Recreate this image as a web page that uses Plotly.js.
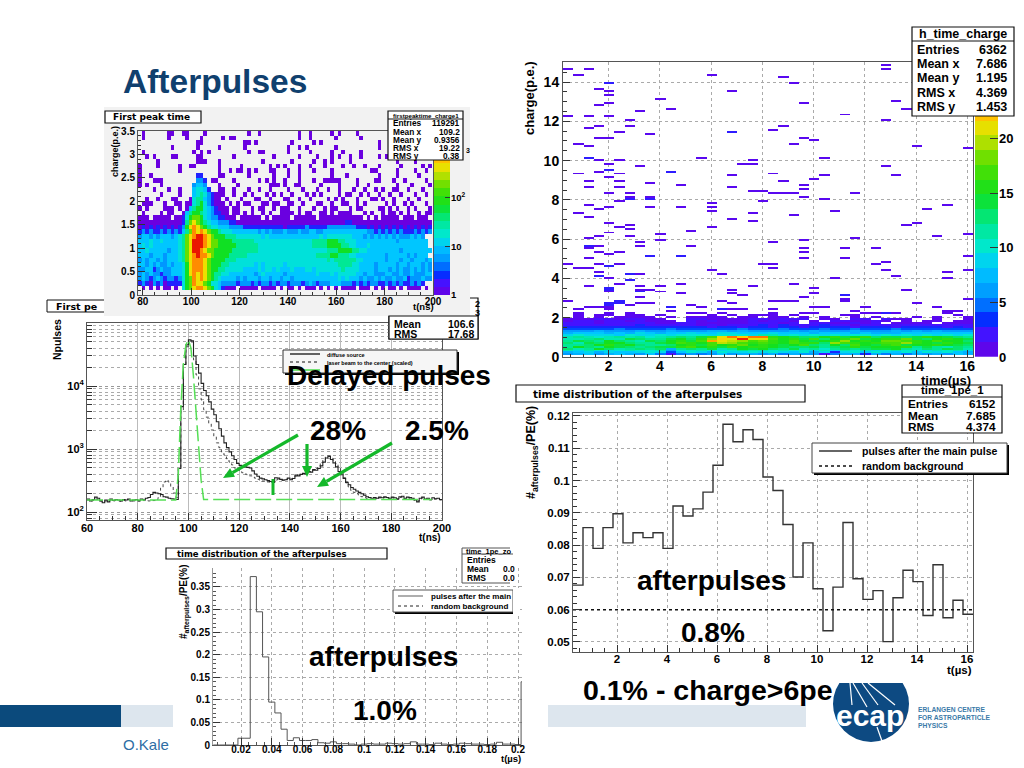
<!DOCTYPE html>
<html><head><meta charset="utf-8">
<script src="https://cdn.plot.ly/plotly-3.0.1.min.js"></script>
<style>html,body{margin:0;padding:0;background:#fff}#g{width:1024px;height:768px}</style>
</head><body><div id="g"></div>
<script>
/* ---------- DATA ---------- */
// Panel A "First peak time": 1.5 ns x 0.1 p.e. cells, rows bottom-up, one char per cell
const peakLevels = {'1':0,'2':0.35,'3':0.72,'4':1.0,'5':1.2,'6':1.5,'7':1.85,'8':2.25,'9':2.65,'a':2.95,'b':3.3};
const peakRows = [
"",
".1.1.1.11.1.5789aa987542111.11111.1111.1.11.1.111.1.1.1.1111.111.1.1.11.1.1111.1.1",
"232132312222578a998755433332333232332323323332343233344433323232332232323223232",
"343234323323578a9a98765444434344434434434434444444444445454443433434334334233343343",
"343433233444579a9a98766554444444345444443444444445444545555544344333443343343334433",
"334423433444579aaa98776655555444454554544454445545555555655554444344434343343434344",
"443434334344579aaa98777665555555454555554555555555555556666554444344444344344434344",
"343443434445689aaa98777766655555555555555555555555556566666655444444344434434443444",
"444344434445689abaa9877776666655555555555555555556666776665544444444344444343444",
"445444443445689bba98877777666666655555555555555555556667777665544444444434444444444",
"454544444445689bbba9887777766666655555555555555566667777665544454444444444444444",
"444544544445689bbba9887777666666555555555555555566667776655544444444444344444444",
"344343444345689abba987776665555555454444444444444454555555544434343434343334343",
"232322323232468a9a9877655544444443434333433343344334444444444443323232323222323232",
"121212121212379a98765544433332222222222212222232222233333333222121212121212121212",
"111111111111268987654433322111111111111111111111111111111221111111111111111111111",
"111.11111.11257887543322111.111111.1.11111.111111.111111111111.1.1.11111.111.111",
".1....1.11..1467765432211.11.1.1..1.1..1111.1.11..11.1.1111...1.1..1.11.1.1..1.11"
];
const peakSparseRows = {
18:[0,2,7,8,9,11,24,26,27,31,33,34,37,39,40,41,44,48,51,53,54,58,60,61,66,67,69,71,74,76,80],
19:[1,2,3,7,10,11,13,23,25,27,29,30,34,35,37,38,41,42,45,49,50,53,56,57,60,62,68,70,73,75,79],
20:[2,5,9,10,22,24,28,32,33,36,40,41,44,47,52,54,56,60,64,65,67,70,74,77],
21:[6,11,22,23,26,29,31,35,37,39,42,46,48,50,55,57,58,61,63,66,69,72,76,79],
22:[4,8,11,22,23,26,30,33,36,41,45,49,52,55,59,62,65,67,70,71,74,78],
23:[0,2,6,22,27,36,37,38,40,43,44,50,55,60,63,71,75,80],
24:[0,4,5,6,20,21,26,33,35,37,40,44,48,51,52,53,54,55,60,65,66,70,73,79],
25:[0,3,22,23,30,37,41,44,53,57,66,71,77],
26:[0,11,22,25,27,28,30,32,36,37,41,44,48,53,64,65,71,76,79],
27:[0,5,11,14,15,22,28,36,38,40,44,47,51,56,59,62,66,72,78,80],
28:[5,16,17,18,22,34,42,48,51,53,58,71,76],
29:[2,4,9,10,16,17,26,37,44,49,53,55,58,61,66,68,70],
30:[1,15,17,19,30,33,34,41,47,53,56,61],
31:[9,16,22,29,41,44,46,54,66],
32:[16,17,29,30,32,42,48,50,66],
33:[1,8,13,17,23,25,26,44,47,54,61],
34:[1,8,9,12,13,18,30,33,44,47,53,55,60]
};
const peakRidge = [[18,13,"14677543211"],[19,14,"1567532111"],[20,14,"156643211"],[21,15,"4565321"],[22,15,"45542"],[23,15,"3443"],[24,16,"332"],[25,16,"22"]];
const peakBarLevels = [0.08,0.25,0.42,0.59,0.76,0.93,1.1,1.27,1.44,1.61,1.78,1.95,2.12,2.29,2.46,2.63,2.8,2.97,3.14,3.31];

// Panel B "First peak" histogram, 1 ns bins from 60 ns
const firstPeakDiffuse = [160,150,158,172,165,150,140,155,145,160,152,158,155,150,158,155,160,150,155,158,152,160,158,165,170,190,205,200,195,190,175,172,165,162,160,158,490,4700,22000,45000,54000,52000,30000,22000,16000,11000,8500,7000,5600,4300,3500,2700,2100,1600,1250,1050,900,780,680,590,550,520,520,510,500,450,400,370,345,335,325,315,305,295,350,345,330,320,325,345,325,340,385,375,395,410,400,440,430,470,460,490,540,620,720,770,680,600,520,440,390,340,295,270,245,230,215,205,195,185,175,170,165,170,165,172,168,175,170,165,172,168,162,175,178,165,172,170,165,155,145,165,172,160,165,158,168,162,165,158];
const firstPeakLaser = [155,148,152,160,158,150,145,150,148,155,150,152,150,148,152,150,155,148,150,152,148,150,152,155,150,148,152,158,170,240,300,320,300,250,200,170,500,4000,21000,42000,52000,50000,26000,15000,9000,6000,4200,3200,2500,2000,1600,1250,1050,900,800,700,620,560,500,470,440,420,400,390,375,360,345,330,320,310,305,300,295,300,320,330,325,320,330,340,335,345,370,380,395,405,410,430,440,460,490,540,600,680,740,760,720,660,590,510,430,350,290,250,220,205,195,185,175,170,165,160,158,165,160,168,165,170,165,160,168,165,158,170,172,160,168,165,160,152,150,160,168,158,160,155,162,160,160,155];
const firstPeakBackground = [155,155,155,155,155,155,155,155,155,155,155,155,155,155,155,155,155,155,155,155,155,155,155,155,155,155,155,155,155,155,155,155,155,155,155,155,400,4500,22000,45000,54000,40000,14000,4000,1100,320,158,158,158,158,158,158,158,158,158,158,158,158,158,158,158,158,158,158,158,158,158,158,158,158,158,158,158,158,158,158,158,158,158,158,158,158,158,158,158,158,158,158,158,158,158,158,158,158,158,158,158,158,158,158,158,158,158,158,158,158,158,158,158,158,158,158,158,158,158,158,158,158,158,158,158,158,158,158,158,158,158,158,158,158,158,158,158,158,158,158];

// Panel C "h_time_charge": 0.4 us x 0.1 p.e. cells, base-36 counts, rows bottom-up
const chargeRows = [
"",
"6786787685256568677675766257737575767687",
"78979889a948a97a99a9a98a7939a8a98a8a9a87",
"b9ba9abaab6aaba9acbbabaa9b8bab9abaa9bab9",
"dbcfdbcdcd7cdcebcfefdcebcacdcdeefcbdcedb",
"cfdcfedcdeeghfgehfggfeddecdegefffgcecbdc",
"ccdfgefdccdfgehfgifgfefhdcfdhfegheffgfed",
"dbedffdccefhgfhkjhghgfhggdjhgfghhjgfegfe",
"cedcfdcbedfgehnlkjhigfhfefgjfgfiihgfhffd",
"bbcdbbedccefdgjmlqllhfgehdfgiefggiedfgfe",
"bcbabcbcabcdcehlomoogfeddfgefgdeedegfedc",
"9a9998a99a9aaa9aaa9bb9a9a9a9aa9a9a9a9a9a",
"7888787987889889988898887888787778888888",
"6667666766766677676666767666766676767666",
"4444454444544444454445444544544454444444",
"3333333333333323323323323333233323333232",
"2222222322222121222323222322122222222222",
"22212222211221111122212.2211212.1111.111",
"12212212111.21211121221.1.221121.1.11.11",
"1112212211..221111221222.11.22.211..1..1",
".1.1.1111.1.1111.11.11.1.1..1.1...1.1..1",
".1.11.11.1....1.1.111.1....11.........1.",
".1..1.1.....11.1....1...1....1.11....1.."
];
// isolated cells above the band: [time bin, charge bin]
const chargeSparseCells = [
[0,146],[1,143],[2,146],[0,122],[2,122],[4,122],[3,136],[4,139],[4,139],[4,135],[4,133],[3,128],[4,129],[7,125],[9,131],[10,126],[14,143],[16,135],[21,142],[22,139],[23,129],[31,148],[31,146],[32,130],[33,126],
[6,120],[6,117],[2,116],[3,117],[3,111],[4,111],[5,114],[8,113],[16,114],[16,114],[20,115],[21,117],[23,111],[24,110],[27,123],[31,120],[1,108],[2,107],[22,108],[34,107],[39,106],
[2,101],[2,101],[3,100],[5,100],[4,98],[7,97],[13,101],[18,100],[17,98],[18,98],[25,101],[31,97],
[1,93],[3,94],[4,95],[4,95],[5,93],[10,94],[10,94],[4,91],[16,92],[20,93],[25,92],[24,90],[32,92],
[2,89],[5,89],[8,88],[11,87],[16,86],[2,86],[5,86],[21,89],[23,87],[23,85],[18,84],[19,84],[20,83],[21,83],[22,83],[4,83],[6,83],[28,83],
[6,80],[6,80],[6,81],[5,79],[8,81],[8,80],[8,80],[23,81],[25,80],[19,79],
[2,77],[3,75],[4,76],[8,76],[11,76],[14,78],[14,76],[14,74],[1,73],[2,71],[18,73],[16,70],[18,69],[22,72],[26,74],[35,75],[37,77],
[4,68],[6,67],[6,65],[5,66],[33,67],[34,68],[12,64],[14,66],[4,63],[9,62],[39,62],[36,61],[3,61],[2,60],[6,61],[9,59],[23,59],[28,60],
[7,58],[7,56],[20,58],[2,56],[2,56],[2,55],[3,56],[12,56],[23,55],[23,53],[23,50],[27,55],[30,55],[3,53],[5,53],[4,52],[8,51],[8,51],[11,51],[11,51],[2,50],[39,51],[27,50],
[0,47],[1,45],[2,45],[3,47],[5,47],[4,46],[4,46],[19,47],[20,47],[20,45],[30,47],[31,48],[31,44],[39,44],[14,44],[15,42],[37,43],[32,41],
[3,43],[3,41],[3,41],[4,40],[6,42],[6,42],[7,42],[6,39],[6,39],[37,40],[26,40],
[2,36],[4,35],[4,35],[4,34],[4,34],[4,33],[5,37],[7,36],[7,34],[7,33],[7,33],[9,36],[8,34],[9,33],[11,37],[11,32],[18,36],[22,37],[16,34],[16,32],[17,31],[24,35],[24,32],[27,31],[27,31],[27,29],[33,34],[23,30],
[0,28],[4,27],[4,27],[4,26],[4,26],[4,25],[4,24],[5,28],[5,28],[5,27],[5,27],[6,26],[7,30],[7,27],[8,27],[10,25],[10,25],[15,28],[16,27],[20,28],[21,28],[22,28],[27,28],[34,27],[39,29],[12,26],[13,25],[24,25],[25,25],[29,25],[36,25],
[1,24],[2,25],[3,25],[10,23],[15,24],[15,24],[16,24],[17,24],[20,24],[23,22],[28,23],[37,23],[38,23],[30,22],[31,22]
];
const chargeBarLevels = [0.7,2.05,3.4,4.75,6.1,7.45,8.8,10.15,11.5,12.85,14.2,15.55,16.9,18.25,19.6,20.95,22.3,23.65,25,26.35];

// Panel D "time distribution of the afterpulses", 40 bins of 0.4 us
const afterpulseRate = [0.0676,0.0854,0.079,0.0854,0.0897,0.0807,0.0838,0.0823,0.0838,0.079,0.0921,0.089,0.0912,0.0964,0.1047,0.1174,0.112,0.1157,0.1127,0.1011,0.0969,0.0864,0.0701,0.0807,0.0665,0.0535,0.067,0.087,0.0696,0.0632,0.0659,0.0501,0.0637,0.0722,0.0687,0.0582,0.0739,0.0575,0.0629,0.0586];
const randomBackgroundT = [0.24,16.24];
const randomBackgroundRate = [0.06,0.06];

// Panel E "time distribution of the afterpulses", zoomed, 0.004 us bins
const zoomRate = [0,0,0,0,0.015,0.015,0.373,0.295,0.195,0.095,0.071,0.035,0.01,0.016,0.01,0.01,0.012,0.005,0.004,0.007,0.003,0.003,0.002,0,0.002,0.003,0.002,0.002,0.004,0.003,0.002,0.003,0.007,0.002,0.002,0.001,0.004,0.002,0.001,0.002,0.004,0.003,0.002,0.002,0.001,0.002,0.006,0.002,0.002,0.001,0.14];

const statA = {title:"firstpeaktime_charge1",labels:["Entries","Mean x","Mean y","RMS x","RMS y"],values:["119291","109.2","0.9356","19.22","0.38"]};
const statC = {title:"h_time_charge",labels:["Entries","Mean x","Mean y","RMS x","RMS y"],values:["6362","7.686","1.195","4.369","1.453"]};
const statD = {title:"time_1pe_1",labels:["Entries","Mean","RMS"],values:["6152","7.685","4.374"]};
const statB = {labels:["Mean","RMS"],values:["106.6","17.68"]};
const statE = {title:"time_1pe_zo",labels:["Entries","Mean","RMS"],values:["","0.0","0.0"]};

/* ---------- HELPERS ---------- */
const FONT="'Liberation Sans',Arial,sans-serif";
const WIDE="'DejaVu Sans',sans-serif";
const W=1024,H=768;
const px=x=>x/W, py=y=>1-y/H;
const palette=[[0,'#6a00e0'],[0.07,'#4a10ff'],[0.13,'#0030ff'],[0.2,'#0090ff'],[0.3,'#00c8ff'],[0.37,'#00e8d0'],[0.45,'#00e890'],[0.55,'#10e020'],[0.65,'#50e000'],[0.74,'#c0e000'],[0.8,'#ffe000'],[0.87,'#ff9000'],[0.93,'#ff4000'],[1,'#e00000']];

const shapes=[],notes=[];
function rect(x0,y0,x1,y1,fill,line,layer,lw){shapes.push({type:'rect',xref:'paper',yref:'paper',x0:px(x0),x1:px(x1),y0:py(y0),y1:py(y1),fillcolor:fill||'rgba(0,0,0,0)',line:{color:line||'rgba(0,0,0,0)',width:line?(lw||1):0},layer:layer||'below'});}
function seg(x0,y0,x1,y1,color,w,layer,dash){shapes.push({type:'line',xref:'paper',yref:'paper',x0:px(x0),x1:px(x1),y0:py(y0),y1:py(y1),line:{color:color,width:w,dash:dash||'solid'},layer:layer||'above'});}
function note(text,x,y,size,o){o=o||{};notes.push({text:text,xref:'paper',yref:'paper',x:px(x),y:py(y),xanchor:o.a||'left',yanchor:'middle',showarrow:false,textangle:o.rot||0,font:{family:o.f||FONT,size:size,color:o.color||'#000',weight:o.w===undefined?700:o.w},borderpad:0});}
function arrow(x0,y0,x1,y1){
  const G='#14b82a',L=Math.hypot(x1-x0,y1-y0),ux=(x1-x0)/L,uy=(y1-y0)/L,hl=11,hw=5;
  const bx=x1-ux*hl,by=y1-uy*hl;
  seg(x0,y0,bx,by,G,3.2);
  const a=[bx-uy*hw,by+ux*hw],b=[bx+uy*hw,by-ux*hw];
  shapes.push({type:'path',xref:'paper',yref:'paper',path:`M ${px(x1)} ${py(y1)} L ${px(a[0])} ${py(a[1])} L ${px(b[0])} ${py(b[1])} Z`,fillcolor:G,line:{width:0},layer:'above'});
}
function stats(s,x0,y0,x1,y1,titleY,lineY,rowYs,lx,vx,size,tsize){
  rect(x0,y0,x1,y1,'#fff','#111','above',1.2);
  if(s.title){seg(x0,lineY,x1,lineY,'#111',1);note(s.title,(x0+x1)/2,titleY,tsize,{a:'center'});}
  s.labels.forEach((l,i)=>{note(l,lx,rowYs[i],size);note(s.values[i],vx,rowYs[i],size,{a:'right'});});
}
function titleBox(t,x0,y0,x1,y1,tx,size,layer){rect(x0,y0,x1,y1,'#fff','#111',layer||'above',1.2);note(t,tx,(y0+y1)/2,size,{f:WIDE});}
function edges(x0,dx,n){const e=[];for(let i=0;i<=n;i++)e.push(x0+i*dx);return e;}
const closeStep=v=>v.concat([v[v.length-1]]);

function baseAxis(dom,range,o){return Object.assign({domain:dom,range:range,showline:true,linecolor:'#555',linewidth:1,mirror:true,zeroline:false,ticks:'inside',ticklen:7,tickcolor:'#333',showgrid:true,gridcolor:'#aaa',griddash:'dot',gridwidth:1,tickfont:{family:FONT,size:11,color:'#000',weight:700},fixedrange:true},o||{});}
const xDom=(a,b)=>[px(a),px(b)], yDom=(top,bot)=>[py(bot),py(top)];

/* ---------- PAGE BACKGROUND SHAPES ---------- */
rect(0,705,121,727,'#0b4a7c');
rect(121,705,806,727,'#dde6ee');
rect(173,545,548,768,'#ffffff');
rect(47,300,110,312,'#fff','#111');
rect(389,298,478,339,'#fff','#111','below',1.2);
rect(104,107,470,316,'#f2f2f2');

/* ---------- TRACES ---------- */
const traces=[];
// A
const nxA=81,nyA=35,zA=[];
for(let r=0;r<nyA;r++){const row=new Array(nxA).fill(null);
  const s=peakRows[r]||'';for(let c=0;c<nxA&&c<s.length;c++){if(s[c]!=='.')row[c]=peakLevels[s[c]];}
  (peakSparseRows[r]||[]).forEach(c=>{row[c]=0;});zA.push(row);}
peakRidge.forEach(([r,c0,s])=>{for(let i=0;i<s.length;i++)zA[r][c0+i]=peakLevels[s[i]];});
traces.push({type:'heatmap',z:zA,x0:78.75,dx:1.5,y0:0.05,dy:0.1,zmin:0,zmax:3.38,colorscale:palette,showscale:false,xaxis:'x',yaxis:'y',hoverinfo:'skip'});
traces.push({type:'heatmap',z:peakBarLevels.map(v=>[v]),x:[0],y:peakBarLevels,zmin:0,zmax:3.38,colorscale:palette,showscale:false,xaxis:'x2',yaxis:'y2',hoverinfo:'skip'});
// B
const eB=edges(60,1,140);
traces.push({type:'scatter',mode:'lines',x:eB,y:closeStep(firstPeakLaser),line:{shape:'hv',color:'#333',width:0.9,dash:'dot'},xaxis:'x3',yaxis:'y3',name:'laser beam to the center (scaled)'});
traces.push({type:'scatter',mode:'lines',x:eB,y:closeStep(firstPeakDiffuse),line:{shape:'hv',color:'#222',width:1.1},xaxis:'x3',yaxis:'y3',name:'diffuse source'});
traces.push({type:'scatter',mode:'lines',x:eB,y:closeStep(firstPeakBackground),line:{color:'#55e055',width:1.5,dash:'16px,5px'},xaxis:'x3',yaxis:'y3',name:'background'});
// C
const nxC=40,nyC=150,zC=[];
for(let r=0;r<nyC;r++){const row=new Array(nxC).fill(null);const s=chargeRows[r]||'';
  for(let c=0;c<nxC&&c<s.length;c++){if(s[c]!=='.')row[c]=parseInt(s[c],36);}zC.push(row);}
chargeSparseCells.forEach(([c,r])=>{zC[r][c]=zC[r][c]?zC[r][c]+1.5:1;});
traces.push({type:'heatmap',z:zC,x0:0.414,dx:0.4,y0:0.05,dy:0.1,zmin:0,zmax:27,colorscale:palette,showscale:false,xaxis:'x4',yaxis:'y4',hoverinfo:'skip'});
traces.push({type:'heatmap',z:chargeBarLevels.map(v=>[v]),x:[0],y:chargeBarLevels,zmin:0,zmax:27,colorscale:palette,showscale:false,xaxis:'x5',yaxis:'y5',hoverinfo:'skip'});
// D
traces.push({type:'scatter',mode:'lines',x:edges(0.24,0.4,40),y:closeStep(afterpulseRate),line:{shape:'hv',color:'#333',width:1.4},xaxis:'x6',yaxis:'y6',name:'pulses after the main pulse'});
traces.push({type:'scatter',mode:'lines',x:randomBackgroundT,y:randomBackgroundRate,line:{color:'#111',width:1.4,dash:'dot'},xaxis:'x6',yaxis:'y6',name:'random background'});
// E
traces.push({type:'scatter',mode:'lines',x:edges(0.002,0.004,51),y:closeStep(zoomRate),line:{shape:'hv',color:'#555',width:1},xaxis:'x7',yaxis:'y7',name:'pulses after the main'});

/* ---------- OVERLAYS ---------- */
// slide
note('Afterpulses',122,81,33.5,{color:'#10406e'});
note('O.Kale',122,744,15,{color:'#2e6da4',w:400});
// A
titleBox('First peak time',105,111,201,123,112,9);
stats(statA,388,111,463,160,115,119,[123.5,132,140,148,156],392,461,8.3,6.2);
note('3',465,150,7);
note('charge(p.e.)',115,152,9,{rot:-90,a:'center'});
note('t(ns)',423,307,9.5,{a:'center'});
// B
note('First pe',55,306,9.5,{f:WIDE});
stats(statB,389,316,478,339,0,0,[324,334],393,475,10.5,9);
note('2',474,304,9);note('3',474,313,9);
note('Npulses',57,340,10.5,{rot:-90,a:'center'});
note('t(ns)',442,537,10,{a:'right'});
// B legend
rect(285,352,459,375,'#000','', 'above');
rect(283,350,457,373,'#f6f6f6','#333','above');
seg(290,354,320,354,'#111',1.3);
seg(290,362,320,362,'#111',1,'above','dot');
seg(290,370,320,370,'#55e055',1.6);
note('diffuse source',326,355,5.5);
note('laser beam to the center (scaled)',326,363,5.5);
// C
stats(statC,912,27,1014,116,34,41,[50,64,78,93,107],916,1008,12.5,12.5);
note('charge(p.e.)',530,98,13,{rot:-90,a:'center'});
note('time(µs)',946,380,13,{a:'center'});
// D
titleBox('time distribution of the afterpulses',516,385,805,402,532,10.5,'below');
stats(statD,902,385,1002,433,390,397,[404,416,427],907,997,11.8,11.5);
note('#<sub>afterpulses</sub>/PE(%)',532,453,12.5,{rot:-90,a:'center'});
note('t(µs)',973,670,11.5,{a:'right'});
rect(814,445,1009,475,'#000','','above');
rect(812,443,1007,473,'#fff','#444','above');
seg(819,451,852,451,'#333',1.4);
seg(819,466,852,466,'#111',1.3,'above','dot');
note('pulses after the main pulse',861,451,10.5);
note('random background',861,466,10.5);
// E
titleBox('time distribution of the afterpulses',166,548,387,559,176,8.5,'below');
rect(462,548,513,583,'#fff','#555','above');
rect(510,546,516,585,'#fff','','above');
note('time_1pe_zo',465,551.5,7.5);
seg(462,554,513,554,'#555',1);
statE.labels.forEach((l,i)=>{note(l,466,[560,569,578][i],8.5);if(statE.values[i])note(statE.values[i],502,[560,569,578][i],8.5);});
note('#<sub>afterpulses</sub>/PE(%)',184,602,10,{rot:-90,a:'center'});
note('t(µs)',522,758,9.5,{a:'right'});
rect(395,592,515,614,'#000','','above');
rect(393,590,513,612,'#fff','#555','above');
rect(513,588,520,616,'#fff','','above');
seg(398,596,423,596,'#777',1.2);
seg(398,606,423,606,'#222',1,'above','dot');
note('pulses after the main',430,596,8);
note('random background',430,606,8);
// large labels
note('Delayed pulses',286,375,28);
note('28%',309,430,28);
note('2.5%',404,430,28);
note('afterpulses',636,580,28);
note('0.8%',680,632,28);
note('afterpulses',308,656,28);
note('1.0%',352,710,28);
note('0.1% - charge>6pe',582,690,28.5);
// arrows
arrow(298,435,223,478);
arrow(392,443,317,487);
arrow(307,444,307,477);
seg(273,479,273,495,'#14b82a',3);
// logo
shapes.push({type:'circle',xref:'paper',yref:'paper',x0:px(833),x1:px(909),y0:py(666),y1:py(742),fillcolor:'#0d4a82',line:{width:0},layer:'above'});
rect(826,665.5,915,683,'#fff','','above');
seg(850,683,852,705,'#fff',1.2);seg(853,683,867,707,'#fff',1.2);seg(862,683,878,705,'#fff',1.2);seg(868,683,895,705,'#fff',1.2);seg(877,727,883,744,'#fff',1.2);
note('ecap',835,715,30,{color:'#fff'});
note('ERLANGEN CENTRE',917,709,6.7,{color:'#3a7aa8'});
note('FOR ASTROPARTICLE',917,717,6.7,{color:'#3a7aa8'});
note('PHYSICS',917,725,6.7,{color:'#3a7aa8'});

/* ---------- LAYOUT ---------- */
const layout={width:W,height:H,margin:{l:0,r:0,t:0,b:0,pad:0},paper_bgcolor:'#fff',plot_bgcolor:'rgba(0,0,0,0)',showlegend:false,shapes:shapes,annotations:notes,
 // A
 xaxis:baseAxis(xDom(138,433),[78,200],{anchor:'y',dtick:20,tick0:0,showgrid:false,ticklen:7,ticklabelstandoff:-3,minor:{dtick:5,ticks:'inside',ticklen:3,tickcolor:'#333'},tickfont:{family:FONT,size:10,weight:700,color:'#000'}}),
 yaxis:baseAxis(yDom(131,295),[0,3.5],{anchor:'x',dtick:0.5,showgrid:false,minor:{dtick:0.1,ticks:'inside',ticklen:3,tickcolor:'#333'},tickfont:{family:FONT,size:10,weight:700,color:'#000'}}),
 xaxis2:baseAxis(xDom(434,450),[-0.5,0.5],{anchor:'y2',showticklabels:false,ticks:'',showgrid:false,showline:false}),
 yaxis2:baseAxis(yDom(131,295),[0,3.38],{anchor:'x2',side:'right',showgrid:false,showline:false,tickvals:[0,1,2],ticktext:['1','10','10<sup>2</sup>'],ticklen:5,tickfont:{family:FONT,size:9.5,weight:700,color:'#000'}}),
 // B
 xaxis3:baseAxis(xDom(87,442),[60,200],{anchor:'y3',dtick:20,tick0:60,gridcolor:'#bbb',griddash:'solid',ticklabelstandoff:-2,minor:{dtick:5,ticks:'inside',ticklen:4,tickcolor:'#333'},tickfont:{family:FONT,size:11,weight:700,color:'#000'}}),
 yaxis3:baseAxis(yDom(323,520),[1.873,5],{anchor:'x3',type:'log',tickvals:[100,1000,10000],ticktext:['10<sup>2</sup>','10<sup>3</sup>','10<sup>4</sup>'],gridcolor:'#999',ticklen:10,minor:{dtick:'D1',ticks:'inside',ticklen:5,tickcolor:'#333',showgrid:true,gridcolor:'#aaa',griddash:'dot',gridwidth:1},tickfont:{family:FONT,size:11,weight:700,color:'#000'}}),
 // C
 xaxis4:baseAxis(xDom(563,973),[0.214,16.22],{anchor:'y4',dtick:2,tick0:0,ticklabelstandoff:-4,minor:{dtick:0.5,ticks:'inside',ticklen:3,tickcolor:'#333'},tickfont:{family:FONT,size:14,weight:700,color:'#000'}}),
 yaxis4:baseAxis(yDom(62,357),[0,15.02],{anchor:'x4',dtick:2,tick0:0,minor:{dtick:0.5,ticks:'inside',ticklen:4,tickcolor:'#333'},tickfont:{family:FONT,size:14,weight:700,color:'#000'}}),
 xaxis5:baseAxis(xDom(975,998),[-0.5,0.5],{anchor:'y5',showticklabels:false,ticks:'',showgrid:false,showline:false}),
 yaxis5:baseAxis(yDom(62,357),[0,27],{anchor:'x5',side:'right',showgrid:false,showline:false,tickvals:[0,5,10,15,20],ticklen:8,tickfont:{family:FONT,size:13,weight:700,color:'#000'}}),
 // D
 xaxis6:baseAxis(xDom(573,973),[0.24,16.24],{anchor:'y6',dtick:2,tick0:0,ticklabelstandoff:-4,minor:{dtick:0.5,ticks:'inside',ticklen:4,tickcolor:'#333'},tickfont:{family:FONT,size:11.5,weight:700,color:'#000'}}),
 yaxis6:baseAxis(yDom(413,652),[0.0469,0.1209],{anchor:'x6',dtick:0.01,tick0:0,minor:{dtick:0.002,ticks:'inside',ticklen:4,tickcolor:'#333'},tickfont:{family:FONT,size:11.5,weight:700,color:'#000'}}),
 // E
 xaxis7:baseAxis(xDom(213,522),[0.0018,0.2026],{anchor:'y7',dtick:0.02,tick0:0,mirror:false,ticklabelstandoff:-5,minor:{dtick:0.005,ticks:'inside',ticklen:3,tickcolor:'#555'},tickfont:{family:FONT,size:10,weight:700,color:'#000'}}),
 yaxis7:baseAxis(yDom(568,745),[0,0.392],{anchor:'x7',dtick:0.05,tick0:0,mirror:false,linecolor:'#999',minor:{dtick:0.01,ticks:'inside',ticklen:3,tickcolor:'#555'},tickfont:{family:FONT,size:10,weight:700,color:'#000'}})
};
Plotly.newPlot('g',traces,layout,{displayModeBar:false,staticPlot:true,responsive:false});
</script></body></html>
